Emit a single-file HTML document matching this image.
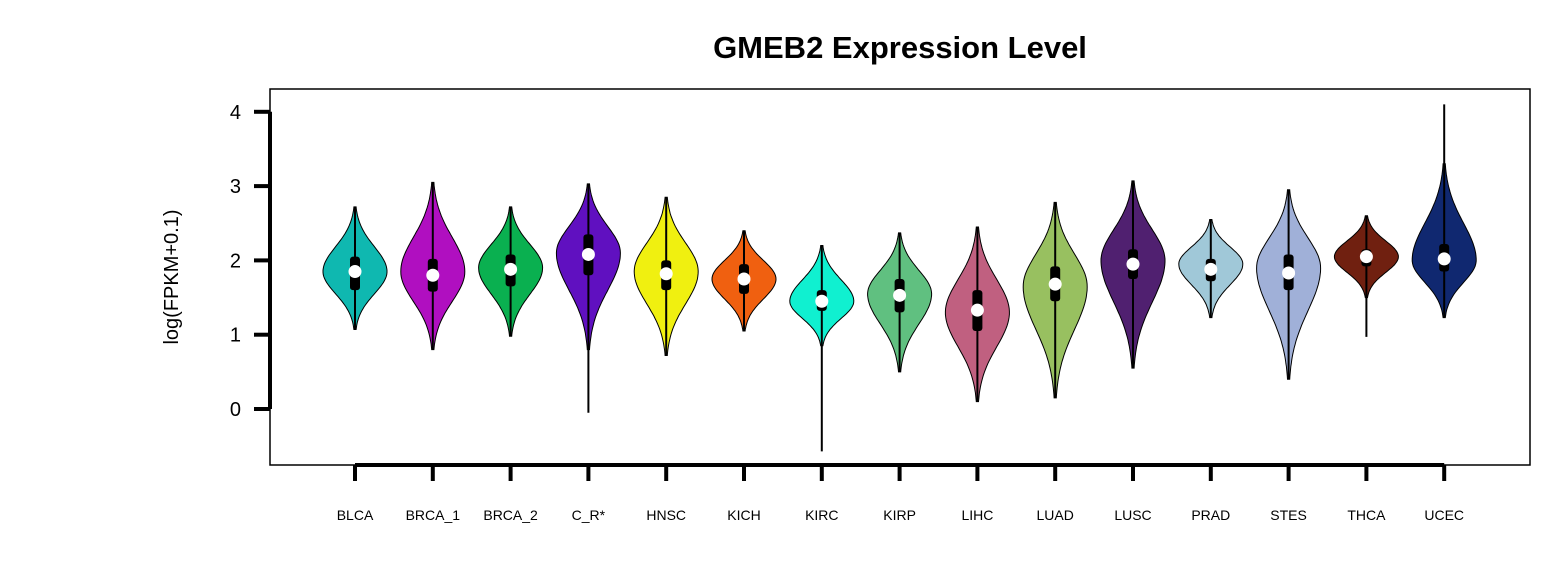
<!DOCTYPE html>
<html><head><meta charset="utf-8">
<style>
html,body{margin:0;padding:0;background:#fff;}
svg{display:block;font-family:"Liberation Sans",Arial,sans-serif;}
</style></head>
<body>
<svg id="chart" width="1560" height="586" viewBox="0 0 1560 586">
  <rect x="0" y="0" width="1560" height="586" fill="#fff"/>
  <text x="900" y="58" text-anchor="middle" font-size="31" font-weight="bold">GMEB2 Expression Level</text>
  <rect x="270" y="89" width="1260" height="376" fill="none" stroke="#000" stroke-width="1.5"/>
  <text transform="translate(178,277) rotate(-90)" text-anchor="middle" font-size="20">log(FPKM+0.1)</text>
  <g id="yaxis"></g>
  <g id="xaxis"></g>
  <g id="violins"></g>
</svg>
<script>
const categories = ["BLCA","BRCA_1","BRCA_2","C_R*","HNSC","KICH","KIRC","KIRP","LIHC","LUAD","LUSC","PRAD","STES","THCA","UCEC"];
const violinMin = [1.07,0.80,0.98,0.80,0.72,1.05,0.85,0.50,0.10,0.15,0.55,1.23,0.40,1.50,1.23];
const violinMax = [2.72,3.05,2.72,3.03,2.85,2.40,2.20,2.37,2.45,2.78,3.07,2.55,2.95,2.60,3.30];
const whiskerMin = [1.07,0.80,0.98,-0.05,0.72,1.05,-0.57,0.50,0.10,0.15,0.55,1.23,0.40,0.97,1.23];
const whiskerMax = [2.72,3.05,2.72,3.03,2.85,2.40,2.20,2.37,2.45,2.78,3.07,2.55,2.95,2.60,4.10];
const q1 = [1.60,1.58,1.65,1.80,1.60,1.55,1.32,1.30,1.05,1.45,1.75,1.72,1.60,1.92,1.85];
const medians = [1.85,1.80,1.88,2.08,1.82,1.75,1.45,1.53,1.33,1.68,1.95,1.88,1.83,2.05,2.02];
const q3 = [2.05,2.02,2.08,2.35,2.00,1.95,1.60,1.75,1.60,1.92,2.15,2.02,2.08,2.15,2.22];
const modes = [1.85,1.85,1.90,2.10,1.85,1.75,1.45,1.55,1.30,1.65,2.00,1.95,1.90,2.05,2.00];
const yTicks = [0,1,2,3,4];
const colors = ["#0fb8b0","#b00fc0","#0ab050","#6010c0","#f0f010","#f06010","#10f0d0","#60c080","#c06080","#98c060","#502070","#a0c8d8","#a0b0d8","#702010","#102870"];
const NS="http://www.w3.org/2000/svg";
const y = v => 409 - 74.3*v;
const x = i => 355 + i*77.8;
const HW = 32;
function mk(tag, attrs, parent){const e=document.createElementNS(NS,tag);for(const k in attrs)e.setAttribute(k,attrs[k]);parent.appendChild(e);return e;}
const ya=document.getElementById('yaxis'), xa=document.getElementById('xaxis'), vg=document.getElementById('violins');
let l=mk('line',{x1:270,x2:270,y1:y(4),y2:y(0),stroke:'#000','stroke-width':4},ya);


yTicks.forEach(t=>{
  const tk=mk('line',{x1:254,x2:270,y1:y(t),y2:y(t),stroke:'#000','stroke-width':4},ya);
  
  
  const tx=mk('text',{x:241,y:y(t)+7,'text-anchor':'end','font-size':20},ya);
  tx.textContent=t;
  
  
});
l=mk('line',{x1:x(0),x2:x(categories.length-1),y1:465,y2:465,stroke:'#000','stroke-width':4},xa);


categories.forEach((c,i)=>{
  const tk=mk('line',{x1:x(i),x2:x(i),y1:465,y2:481,stroke:'#000','stroke-width':4},xa);
  
  
  const tx=mk('text',{x:x(i),y:520,'text-anchor':'middle','font-size':14},xa);
  tx.textContent=c;
  
  
  // violin outline
  const lo=violinMin[i], hi=violinMax[i], m=modes[i];
  const sl=(m-lo)/2.6, sh=(hi-m)/2.6;
  const pts=[];
  const N=60;
  for(let k=0;k<=N;k++){
    const v=lo+(hi-lo)*k/N;
    const s=v<m?sl:sh;
    const w=HW*Math.exp(-0.5*Math.pow((v-m)/s,2));
    pts.push([v,Math.max(w,0.8)]);
  }
  let d='M'+pts.map(p=>(x(i)+p[1]).toFixed(1)+','+y(p[0]).toFixed(1)).join(' L');
  d+=' L'+pts.slice().reverse().map(p=>(x(i)-p[1]).toFixed(1)+','+y(p[0]).toFixed(1)).join(' L')+' Z';
  const g=mk('g',{},vg);
  
  
  const p=mk('path',{d:d,fill:colors[i],stroke:'#000','stroke-width':1},g);
  
  
  const wl=mk('line',{x1:x(i),x2:x(i),y1:y(whiskerMin[i]),y2:y(whiskerMax[i]),stroke:'#000','stroke-width':2},g);
  
  
  const bx=mk('rect',{x:x(i)-5,y:y(q3[i]),width:10,height:y(q1[i])-y(q3[i]),rx:3,fill:'#000'},g);
  
  
  const md=mk('circle',{cx:x(i),cy:y(medians[i]),r:6.5,fill:'#fff'},g);
  
  
});
</script>
</body></html>
